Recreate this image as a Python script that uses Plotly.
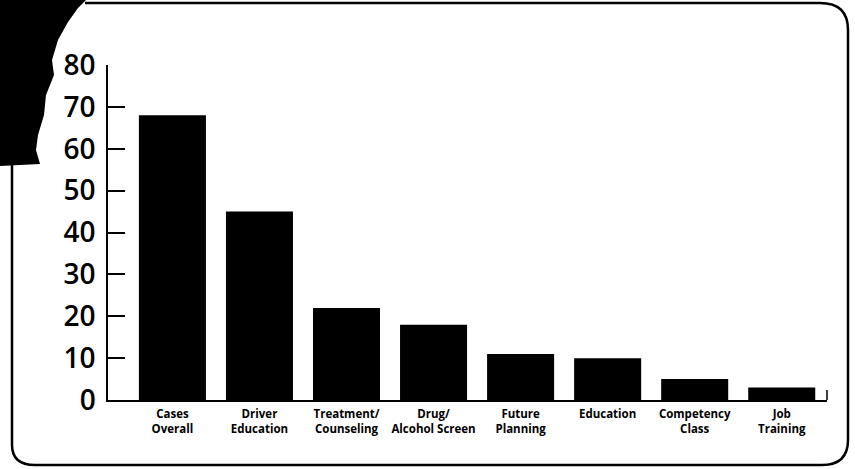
import plotly.graph_objects as go

categories = ["Cases<br>Overall", "Driver<br>Education", "Treatment/<br>Counseling",
              "Drug/<br>Alcohol Screen", "Future<br>Planning", "Education",
              "Competency<br>Class", "Job<br>Training"]
values = [68, 45, 22, 18, 11, 10, 5, 3]
y_ticks = [0, 10, 20, 30, 40, 50, 60, 70, 80]

W, H = 855, 469
L, T = 108, 65
R = W - 827
B = H - 400
PW, PH = W - L - R, H - T - B


def px(x):
    return (x - L) / PW


def py(y):
    return (H - B - y) / PH


fig = go.Figure(go.Bar(
    x=list(range(len(categories))), y=values,
    marker=dict(color="#000000", line=dict(width=0)),
    width=0.77,
))

font_family = "Open Sans, Noto Sans, sans-serif"

fig.update_layout(
    width=W, height=H,
    margin=dict(l=L, r=R, t=T, b=B),
    paper_bgcolor="white", plot_bgcolor="white",
    showlegend=False,
)
fig.update_xaxes(
    tickmode="array", tickvals=list(range(len(categories))), ticktext=categories,
    range=[-0.74, 7.52],
    showline=True, linecolor="black", linewidth=2.2,
    ticks="", showgrid=False, zeroline=False,
    tickfont=dict(family=font_family, size=11.5, color="black", weight="bold"),
    ticklabelstandoff=2,
)
fig.update_yaxes(
    range=[0, 80], tickmode="array", tickvals=y_ticks,
    showline=True, linecolor="black", linewidth=1.5,
    ticks="inside", ticklen=17, tickwidth=1.5, tickcolor="black",
    showgrid=False, zeroline=False,
    tickfont=dict(family=font_family, size=28, color="black", weight=600),
    ticklabelstandoff=5,
)

shapes = []
frame = (f"M {px(85)},{py(3)} L {px(820)},{py(3)} "
         f"Q {px(848)},{py(3)} {px(848)},{py(30)} "
         f"L {px(848)},{py(440)} Q {px(848)},{py(465)} {px(822)},{py(465)} "
         f"L {px(35)},{py(465)} Q {px(12)},{py(465)} {px(12)},{py(445)} "
         f"L {px(12)},{py(165)}")
shapes.append(dict(type="path", xref="paper", yref="paper", path=frame,
                   line=dict(color="black", width=2.5)))
pts = [(0, 0), (86, 0), (78, 8), (68, 22), (58, 40), (52, 60), (54, 75),
       (46, 95), (44, 115), (38, 135), (36, 150), (40, 164), (0, 166)]
blob = "M " + " L ".join(f"{px(a)},{py(b)}" for a, b in pts) + " Z"
shapes.append(dict(type="path", xref="paper", yref="paper", path=blob,
                   fillcolor="black", line=dict(color="black", width=0)))
shapes.append(dict(type="line", xref="paper", yref="paper",
                   x0=px(827), x1=px(827), y0=py(400), y1=py(390),
                   line=dict(color="black", width=1.5)))
fig.update_layout(shapes=shapes)

fig.write_html("out.html", config={"displayModeBar": False},
               post_script="document.body.style.margin='0px';")
